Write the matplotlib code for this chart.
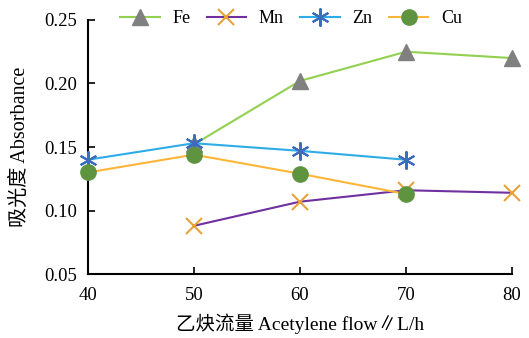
import matplotlib
matplotlib.use("Agg")
import matplotlib.pyplot as plt

plt.rcParams['font.family'] = ['Liberation Serif', 'Noto Sans CJK SC']

flow = [40, 50, 60, 70, 80]
fe_x = [50, 60, 70, 80]
fe = [0.152, 0.202, 0.225, 0.220]
mn_x = [50, 60, 70, 80]
mn = [0.088, 0.107, 0.116, 0.114]
zn_x = [40, 50, 60, 70]
zn = [0.140, 0.153, 0.147, 0.140]
cu_x = [40, 50, 60, 70]
cu = [0.130, 0.144, 0.129, 0.113]
yticks = [0.05, 0.10, 0.15, 0.20, 0.25]

fig = plt.figure(figsize=(5.29, 3.38), dpi=100)
ax = fig.add_axes([0.166, 0.189, 0.802, 0.752])

ax.plot(fe_x, fe, color="#92D050", lw=1.5, marker="^", ms=11,
        mfc="#808080", mec="#808080", label="Fe", zorder=2)
ax.plot(mn_x, mn, color="#7030A0", lw=1.5, marker="x", ms=11, mew=1.5,
        mec="#E8A23A", label="Mn", zorder=3)
ax.plot(zn_x, zn, color="#2EACE6", lw=1.5, marker=(6, 2, 0), ms=13, mew=1.5,
        mec="#3A6CC0", label="Zn", zorder=4)
ax.plot(cu_x, cu, color="#FFB538", lw=1.5, marker="o", ms=11,
        mfc="#5E9440", mec="#5E9440", label="Cu", zorder=5)

ax.set_xlim(40, 80)
ax.set_ylim(0.05, 0.25)
ax.set_xticks(flow)
ax.set_yticks(yticks)
ax.set_yticklabels([f"{v:.2f}" for v in yticks])
ax.tick_params(direction="in", length=5, width=1.2, labelsize=13.5)
ax.tick_params(axis="x", pad=9)
ax.tick_params(axis="y", pad=8)
for s in ["top", "right"]:
    ax.spines[s].set_visible(False)
for s in ["left", "bottom"]:
    ax.spines[s].set_linewidth(1.5)
for ln in ax.lines:
    ln.set_clip_on(False)

ax.set_xlabel("乙炔流量 Acetylene flow∥L/h", fontsize=14, labelpad=7)
ax.set_ylabel("吸光度 Absorbance", fontsize=14.5, labelpad=10)

fig.legend(loc="center", bbox_to_anchor=(0.55, 0.945), ncol=4, frameon=False,
           fontsize=13, handlelength=2.2, columnspacing=0.9, handletextpad=0.7)

fig.savefig("out.png", dpi=100)
